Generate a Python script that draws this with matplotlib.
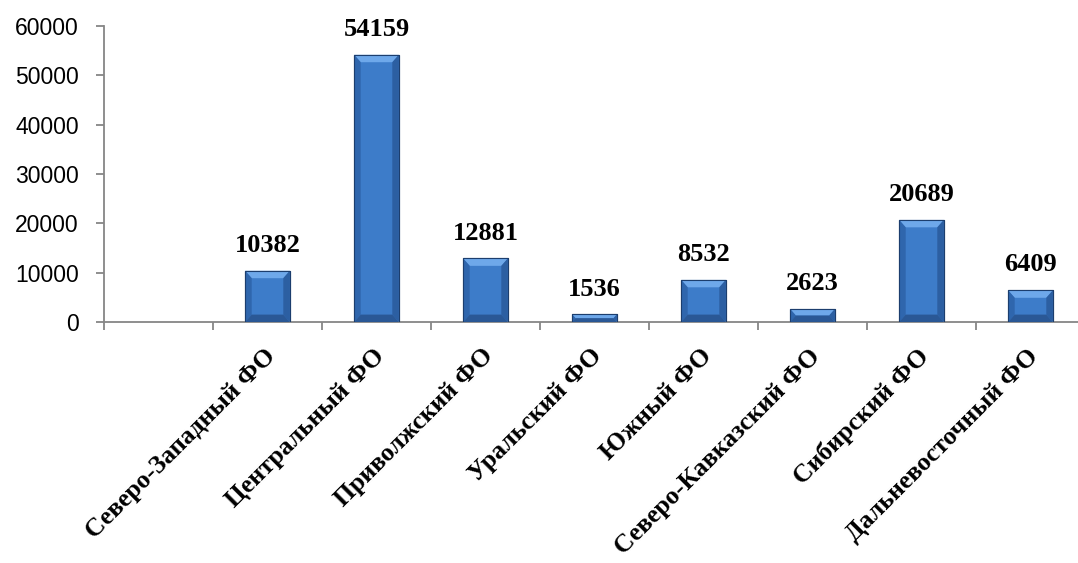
import numpy as np
import matplotlib
matplotlib.use("Agg")
import matplotlib.pyplot as plt
from matplotlib.patches import Polygon
from matplotlib.ticker import FixedLocator


# данные
regions = ["", "Северо-Западный ФО", "Центральный ФО", "Приволжский ФО",
           "Уральский ФО", "Южный ФО", "Северо-Кавказский ФО",
           "Сибирский ФО", "Дальневосточный ФО"]
values = [0, 10382, 54159, 12881, 1536, 8532, 2623, 20689, 6409]
yticks = [0, 10000, 20000, 30000, 40000, 50000, 60000]

fig = plt.figure(figsize=(10.78, 5.63), dpi=100)
ax = fig.add_axes([104 / 1078, 1 - 322 / 563, 1 - 104 / 1078, (322 - 26) / 563])

x = np.arange(len(regions))
bars = ax.bar(x[1:], values[1:], width=0.41, color="#3d7cc9",
              edgecolor="#1c3e6e", linewidth=0.8, zorder=2)

ax.set_xlim(-0.5, -0.5 + (1078 - 104) / 109)
ax.set_ylim(0, 60000)

# фаска на столбцах
bx = 0.06
by = 1500
for b in bars:
    x0, w, h = b.get_x(), b.get_width(), b.get_height()
    d = min(by, h / 2)
    dx = bx * d / by
    top = Polygon([(x0, h), (x0 + w, h), (x0 + w - dx, h - d), (x0 + dx, h - d)],
                  closed=True, facecolor="#6ea8ea", edgecolor="none", zorder=3)
    left = Polygon([(x0, 0), (x0, h), (x0 + dx, h - d), (x0 + dx, d)],
                   closed=True, facecolor="#2f66ad", edgecolor="none", zorder=3)
    right = Polygon([(x0 + w, 0), (x0 + w, h), (x0 + w - dx, h - d), (x0 + w - dx, d)],
                    closed=True, facecolor="#2c5fa2", edgecolor="none", zorder=3)
    bot = Polygon([(x0, 0), (x0 + w, 0), (x0 + w - dx, d), (x0 + dx, d)],
                  closed=True, facecolor="#2a5896", edgecolor="none", zorder=3)
    for p in (top, left, right, bot):
        ax.add_patch(p)
    ax.add_patch(Polygon([(x0, 0), (x0, h), (x0 + w, h), (x0 + w, 0)], closed=True,
                         facecolor="none", edgecolor="#1c3e6e", linewidth=0.8, zorder=4))
    ax.annotate(str(int(h)), (x0 + w / 2, h), xytext=(0, 10), textcoords="offset points",
                ha="center", va="bottom", fontsize=19, fontweight="bold",
                family="Liberation Serif")

for s in ["top", "right"]:
    ax.spines[s].set_visible(False)
for s in ["left", "bottom"]:
    ax.spines[s].set_color("#868686")
    ax.spines[s].set_linewidth(1.3)

ax.set_yticks(yticks)
ax.set_yticklabels([str(v) for v in yticks], fontsize=16.5, family="Liberation Sans")
ax.tick_params(axis="y", direction="out", length=6, width=1.3, color="#868686", pad=12)

ax.set_xticks(x[1:] + 0.04)
ax.set_xticklabels(regions[1:], rotation=45, ha="right", va="center",
                   rotation_mode="anchor", fontsize=18.5, fontweight="bold",
                   family="Liberation Serif")
ax.tick_params(axis="x", which="major", length=0, pad=22)
ax.xaxis.set_minor_locator(FixedLocator(x - 0.5))
ax.tick_params(axis="x", which="minor", direction="out", length=6, width=1.3, color="#868686")

fig.savefig("out.png", dpi=100)
